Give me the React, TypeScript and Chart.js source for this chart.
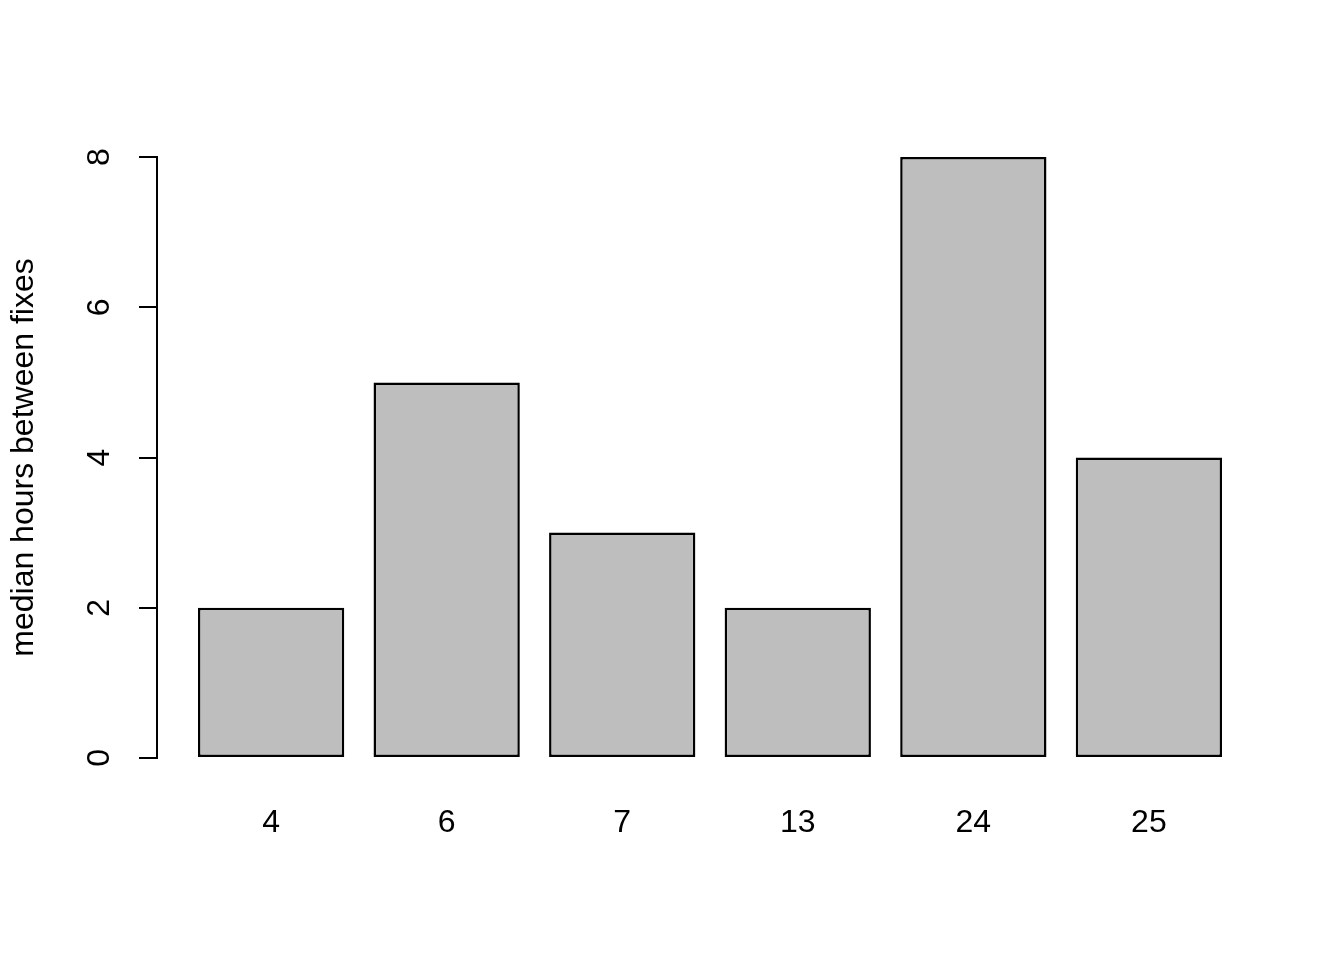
import React, { useEffect, useRef } from "react";
import { Chart, registerables } from "chart.js";

Chart.register(...registerables);

const categories = ["4", "6", "7", "13", "24", "25"];
const medianHours = [2, 5, 3, 2, 8, 4];
const yTicks = [0, 2, 4, 6, 8];
const yTitle = "median hours between fixes";

const FONT = "'Liberation Sans', Arial, sans-serif";
const BAR_WIDTH = 1;
const BAR_SPACE = 0.2;
const centers = categories.map((_, i) => BAR_SPACE + i * (BAR_WIDTH + BAR_SPACE) + BAR_WIDTH / 2);
const xLo = BAR_SPACE;
const xHi = categories.length * (BAR_WIDTH + BAR_SPACE);
const xExt = (xHi - xLo) * 0.04;
const yMax = Math.max(...yTicks);
const yExt = yMax * 0.04;

const axisLinePlugin = {
  id: "rAxisLine",
  afterDraw(chart: any) {
    const y = chart.scales.y;
    const ctx = chart.ctx;
    const x = chart.chartArea.left;
    ctx.save();
    ctx.strokeStyle = "#000";
    ctx.lineWidth = 2;
    ctx.lineCap = "square";
    ctx.beginPath();
    ctx.moveTo(x, y.getPixelForValue(yTicks[0]));
    ctx.lineTo(x, y.getPixelForValue(yTicks[yTicks.length - 1]));
    ctx.stroke();
    ctx.restore();
  },
};

export default function App() {
  const ref = useRef<HTMLCanvasElement | null>(null);
  useEffect(() => {
    if (!ref.current) return;
    const chart = new Chart(ref.current, {
      type: "bar",
      data: {
        datasets: [
          {
            data: medianHours.map((v, i) => ({ x: centers[i], y: v })),
            backgroundColor: "#BEBEBE",
            borderColor: "#000000",
            borderWidth: 2.5,
            borderSkipped: false,
            categoryPercentage: 1,
            barPercentage: BAR_WIDTH / (BAR_WIDTH + BAR_SPACE),
          },
        ],
      },
      options: {
        animation: false,
        responsive: true,
        maintainAspectRatio: false,
        layout: { padding: { left: 0, right: 81, top: 133, bottom: 0 } },
        plugins: { legend: { display: false }, tooltip: { enabled: false } },
        scales: {
          x: {
            type: "linear",
            offset: false,
            min: xLo - xExt,
            max: xHi + xExt,
            afterBuildTicks: (s: any) => {
              s.ticks = centers.map((c) => ({ value: c }));
            },
            afterFit: (s: any) => {
              s.height = 178;
            },
            grid: { display: false, drawTicks: false, offset: false },
            border: { display: false },
            ticks: {
              autoSkip: false,
              maxRotation: 0,
              minRotation: 0,
              padding: 22,
              color: "#000",
              font: { family: FONT, size: 32 },
              callback: (_v: any, i: number) => categories[i],
            },
          },
          y: {
            type: "linear",
            min: -yExt,
            max: yMax + yExt,
            afterBuildTicks: (s: any) => {
              s.ticks = yTicks.map((v) => ({ value: v }));
            },
            afterFit: (s: any) => {
              s.width = 157;
            },
            grid: {
              display: true,
              drawOnChartArea: false,
              drawTicks: true,
              tickLength: 18,
              color: "#000",
              lineWidth: 2,
            },
            border: { display: false },
            ticks: {
              minRotation: 90,
              maxRotation: 90,
              crossAlign: "center",
              padding: 30,
              color: "#000",
              font: { family: FONT, size: 32 },
              callback: (v: any) => String(v),
            },
            title: {
              display: true,
              text: yTitle,
              color: "#000",
              font: { family: FONT, size: 32 },
              padding: { top: 5, bottom: 0 },
            },
          },
        },
      },
      plugins: [axisLinePlugin],
    });
    return () => chart.destroy();
  }, []);
  return (
    <div style={{ position: "absolute", left: 0, top: 0, width: 1344, height: 960, background: "#fff" }}>
      <canvas ref={ref} />
    </div>
  );
}
